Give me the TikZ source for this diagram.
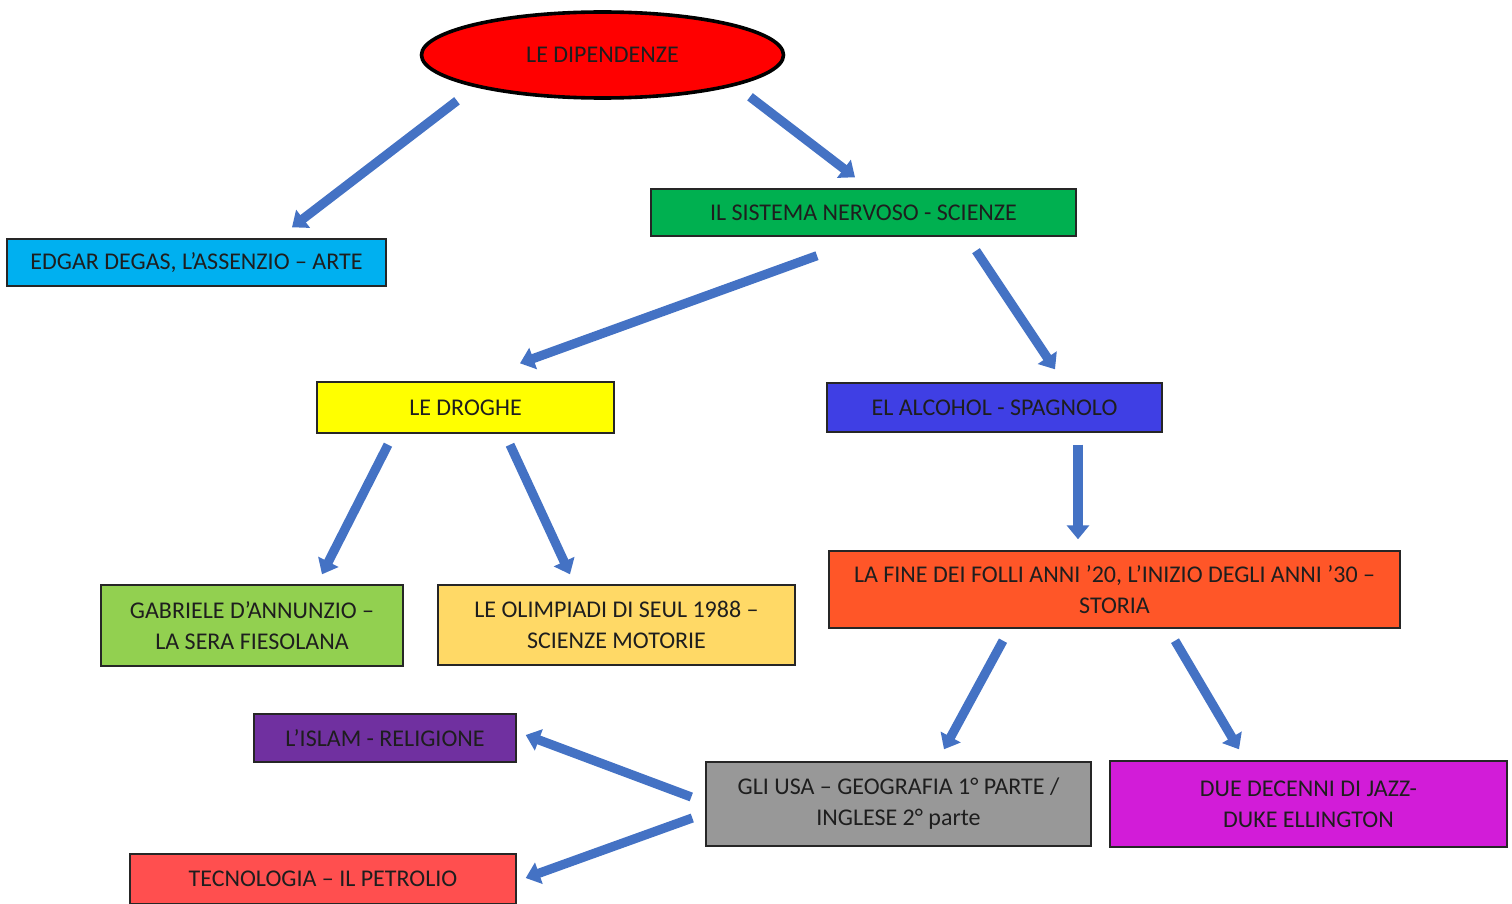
\documentclass[tikz,border=0pt]{standalone}
\usepackage{fontspec}
\setmainfont{Carlito}
\usetikzlibrary{shapes.geometric,arrows.meta}
\definecolor{arrblue}{HTML}{4472C4}
\definecolor{cyanc}{HTML}{00B0F0}
\definecolor{greenc}{HTML}{00B050}
\definecolor{yellowc}{HTML}{FFFF00}
\definecolor{bluec}{HTML}{3F3FE4}
\definecolor{lgreenc}{HTML}{92D050}
\definecolor{goldc}{HTML}{FFD966}
\definecolor{orangec}{HTML}{FF5628}
\definecolor{purplec}{HTML}{7030A0}
\definecolor{grayc}{HTML}{989898}
\definecolor{magentac}{HTML}{D21CD8}
\definecolor{redc}{HTML}{FF4F4F}
\definecolor{txt}{HTML}{1E1E1E}
\tikzset{
  box/.style={draw=black!85, line width=0.7pt, rectangle, inner sep=2pt, align=center,
    font=\fontsize{12}{15.5}\selectfont, text=txt},
  arr/.style={draw=arrblue, line width=4.6pt, -{Triangle[width=11pt,length=7pt]}}
}
\begin{document}
\begin{tikzpicture}[x=0.5pt,y=-0.5pt]
\useasboundingbox (0,0) rectangle (1512,904);
\node[ellipse, draw=black, line width=1.8pt, fill=red, minimum width=181pt, minimum height=43pt, inner sep=0pt,
  font=\fontsize{12}{14}\selectfont, text=txt] (ell) at (602.5,55) {LE DIPENDENZE};
\node[box, fill=cyanc, minimum width=189.5pt, minimum height=23.5pt] (edgar) at (196.5,262.5) {EDGAR DEGAS, L’ASSENZIO – ARTE};
\node[box, fill=greenc, minimum width=212.5pt, minimum height=23.5pt] (sist) at (863.5,212.5) {IL SISTEMA NERVOSO - SCIENZE};
\node[box, fill=yellowc, minimum width=148.5pt, minimum height=25.5pt] (drog) at (465.5,407.5) {LE DROGHE};
\node[box, fill=bluec, minimum width=167.5pt, minimum height=24.5pt] (alc) at (994.5,407.5) {EL ALCOHOL - SPAGNOLO};
\node[box, fill=lgreenc, minimum width=151pt, minimum height=40.5pt] (gab) at (252,625.5) {GABRIELE D’ANNUNZIO –\\LA SERA FIESOLANA};
\node[box, fill=goldc, minimum width=178.5pt, minimum height=40pt] (oli) at (616.5,625) {LE OLIMPIADI DI SEUL 1988 –\\SCIENZE MOTORIE};
\node[box, fill=orangec, minimum width=285.5pt, minimum height=38.5pt] (fine) at (1114.5,589.5) {LA FINE DEI FOLLI ANNI ’20, L’INIZIO DEGLI ANNI ’30 –\\STORIA};
\node[box, fill=purplec, minimum width=131pt, minimum height=24pt] (isl) at (385,738) {L’ISLAM - RELIGIONE};
\node[box, fill=grayc, minimum width=192.5pt, minimum height=42pt] (usa) at (898.5,804) {GLI USA – GEOGRAFIA 1° PARTE /\\INGLESE 2° parte};
\node[box, fill=magentac, minimum width=198.5pt, minimum height=43pt] (due) at (1308.5,804) {DUE DECENNI DI JAZZ-\\DUKE ELLINGTON};
\node[box, fill=redc, minimum width=193pt, minimum height=25pt] (tec) at (323,879) {TECNOLOGIA – IL PETROLIO};
\draw[arr] ([shift={(-145.5,1)}]ell.south) -- ([shift={(95.5,-11)}]edgar.north);
\draw[arr] ([shift={(147.5,-3)}]ell.south) -- ([shift={(-8.5,-11)}]sist.north);
\draw[arr] ([shift={(-46.5,19)}]sist.south) -- ([shift={(54.5,-18)}]drog.north);
\draw[arr] ([shift={(112.5,14)}]sist.south) -- ([shift={(60.5,-13)}]alc.north);
\draw[arr] ([shift={(-77.5,11)}]drog.south) -- ([shift={(70,-10)}]gab.north);
\draw[arr] ([shift={(44.5,11)}]drog.south) -- ([shift={(-46.5,-10)}]oli.north);
\draw[arr] ([shift={(83.5,12)}]alc.south) -- ([shift={(-36.5,-11)}]fine.north);
\draw[arr] ([shift={(-111.5,12)}]fine.south) -- ([shift={(45.5,-12)}]usa.north);
\draw[arr] ([shift={(60.5,12)}]fine.south) -- ([shift={(-69.5,-11)}]due.north);
\draw[arr] ([shift={(-14,-7)}]usa.west) -- ([shift={(9,-3)}]isl.east);
\draw[arr] ([shift={(-13,14)}]usa.west) -- ([shift={(9,-1)}]tec.east);
\end{tikzpicture}
\end{document}
